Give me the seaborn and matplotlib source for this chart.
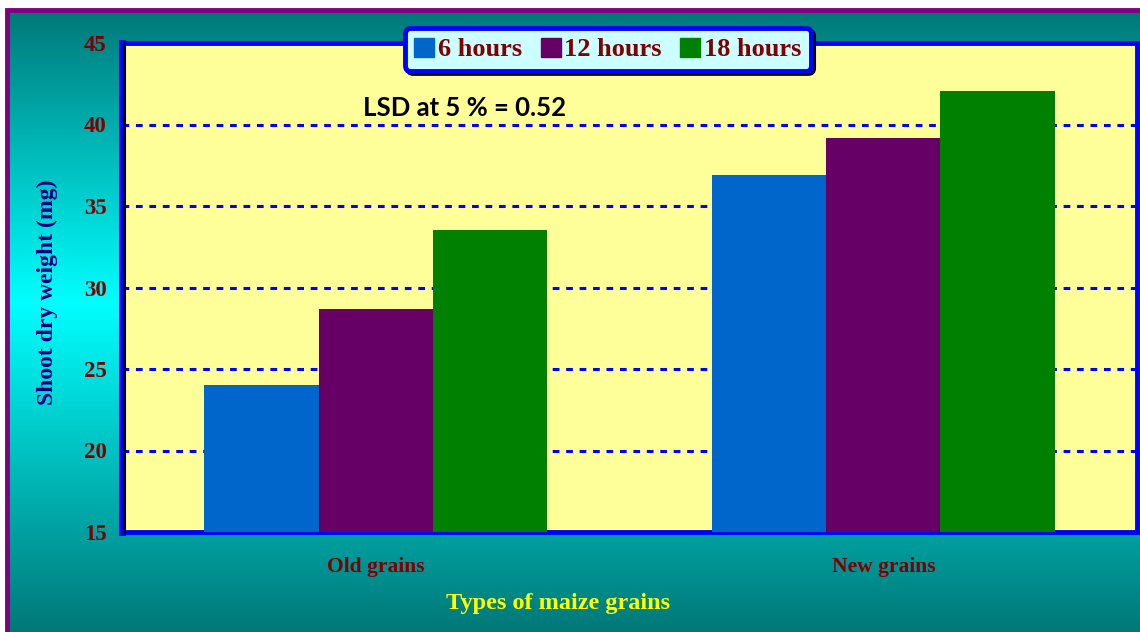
import numpy as np
import pandas as pd
import matplotlib
matplotlib.use("Agg")
import matplotlib.pyplot as plt
from matplotlib.colors import LinearSegmentedColormap
from matplotlib.patches import Rectangle
from matplotlib.lines import Line2D
import seaborn as sns

# data
grains = ["Old grains", "New grains"]
hours = ["6 hours", "12 hours", "18 hours"]
w_6h = [24.0, 36.9]
w_12h = [28.7, 39.2]
w_18h = [33.5, 42.05]
yticks = [15, 20, 25, 30, 35, 40, 45]

colors = ["#0066CC", "#660066", "#008000"]
dark_red = "#800000"

rows = []
for h, vals in zip(hours, [w_6h, w_12h, w_18h]):
    for g, v in zip(grains, vals):
        rows.append({"Grain": g, "Hours": h, "Weight": v})
df = pd.DataFrame(rows)

sns.set_style("white")
plt.rcParams["font.family"] = ["Liberation Serif", "DejaVu Serif"]

fig = plt.figure(figsize=(11.4, 6.32), dpi=100)
fig.patch.set_facecolor("white")

# gradient background (teal -> cyan -> teal)
bg = fig.add_axes([7 / 1140, 0, 1 - 7 / 1140, 1 - 10 / 632], zorder=-10)
cmap = LinearSegmentedColormap.from_list(
    "tc", [(0, "#007878"), (0.47, "#00FFFF"), (1, "#007878")])
grad = np.linspace(0, 1, 256).reshape(-1, 1)
bg.imshow(grad, aspect="auto", cmap=cmap, extent=[0, 1, 0, 1])
bg.set_axis_off()
fig.patches.append(Rectangle((7 / 1140, -0.01), 1 - 7 / 1140 + 0.01, 1 - 10 / 632 + 0.01,
                             transform=fig.transFigure, fill=False,
                             edgecolor="#800080", linewidth=3.5, zorder=-5))

ax = fig.add_axes([122 / 1140, 1 - 532 / 632, 1015 / 1140, (532 - 43) / 632])
ax.set_facecolor("#FFFF99")
sns.barplot(data=df, x="Grain", y="Weight", hue="Hours", order=grains,
            hue_order=hours, palette=colors, saturation=1, width=0.675,
            gap=0, ax=ax, legend=False, zorder=3, linewidth=0)

ax.set_xlim(-0.5, 1.5)
ax.set_ylim(15, 45)
ax.set_yticks(yticks)
ax.yaxis.grid(True, color="blue", linestyle=(0, (2.2, 2.2)), linewidth=2.2, zorder=1)
ax.set_axisbelow(True)

for side in ["top", "right", "bottom"]:
    ax.spines[side].set_color("blue")
    ax.spines[side].set_linewidth(3.5)
ax.spines["left"].set_color("blue")
ax.spines["left"].set_linewidth(5)
ax.add_line(Line2D([0.002, 0.002], [0, 1], transform=ax.transAxes,
                   color="black", linewidth=2.2, zorder=6, clip_on=False))

ax.tick_params(axis="y", direction="out", length=5, width=2, color="black",
               labelsize=16.5, labelcolor=dark_red, pad=6)
for lab in ax.get_yticklabels():
    lab.set_fontweight("bold")

ax.set_xticks([0, 1])
ax.set_xticklabels(grains, fontsize=15.5, fontweight="bold", color=dark_red)
ax.tick_params(axis="x", length=0, pad=18)
ax.set_xticks([-0.5, 0.5, 1.5], minor=True)
ax.tick_params(axis="x", which="minor", direction="out", length=5, width=2, color="blue")
ax.set_xlabel("")
ax.set_ylabel("")

fig.text(47 / 1140, 1 - 292 / 632, "Shoot dry weight (mg)", rotation=90,
         ha="center", va="center", fontsize=17, fontweight="bold", color="#000080")
fig.text(558 / 1140, 1 - 603 / 632, "Types of maize grains", ha="center",
         va="center", fontsize=17.5, fontweight="bold", color="#FFFF00")
fig.text(363 / 1140, 1 - 108 / 632, "LSD at 5 % = 0.52", ha="left", va="center",
         fontsize=18.5, fontweight="bold", color="black", family=["Lato", "DejaVu Sans"])

handles = [Rectangle((0, 0), 1, 1, facecolor=c, edgecolor=c) for c in colors]
leg = fig.legend(handles, hours, loc="center", bbox_to_anchor=(608 / 1140, 1 - 49.5 / 632),
                 ncol=3, frameon=True, fancybox=True, shadow={"color": "black", "alpha": 1},
                 prop={"family": "Liberation Serif", "weight": "bold", "size": 19},
                 handlelength=0.75, handleheight=0.75, handletextpad=0.15,
                 columnspacing=0.7, borderpad=0.35, labelcolor=dark_red)
leg.get_frame().set_facecolor("#CCFFFF")
leg.get_frame().set_edgecolor("blue")
leg.get_frame().set_linewidth(3.5)
leg.get_frame().set_alpha(1)
leg.set_zorder(20)

fig.savefig("out.png", dpi=100)
